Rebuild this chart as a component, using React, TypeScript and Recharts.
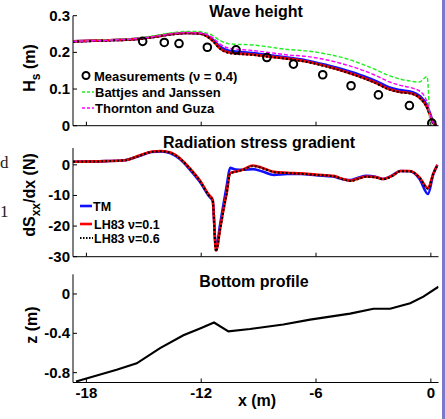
import React from "react"
import { ComposedChart, LineChart, Line, Scatter, XAxis, YAxis } from "recharts"

// wave height panel
const xWave = [-18.7, -17, -15.5, -14.5, -13.5, -12.8, -12.2, -11.8, -11.4, -11.0, -10.6, -10.2, -9.5, -8.5, -7.5, -6.5, -5.5, -4.5, -3.5, -2.8, -2.2, -1.6, -1.0, -0.6, -0.2, -0.05, 0.1, 0.3]
const tmWave = [0.23, 0.233, 0.236, 0.242, 0.25, 0.253, 0.252, 0.248, 0.235, 0.215, 0.205, 0.202, 0.199, 0.193, 0.186, 0.178, 0.166, 0.152, 0.135, 0.12, 0.105, 0.097, 0.092, 0.082, 0.055, 0.035, 0.012, 0]
const lh1Wave = [0.23, 0.233, 0.236, 0.242, 0.25, 0.253, 0.252, 0.247, 0.232, 0.21, 0.2, 0.197, 0.195, 0.189, 0.183, 0.175, 0.163, 0.148, 0.13, 0.115, 0.1, 0.092, 0.088, 0.077, 0.05, 0.03, 0.01, 0]
const lh6Wave = [0.229, 0.232, 0.235, 0.241, 0.249, 0.252, 0.251, 0.246, 0.231, 0.209, 0.199, 0.196, 0.194, 0.188, 0.182, 0.174, 0.162, 0.147, 0.129, 0.114, 0.099, 0.091, 0.087, 0.076, 0.049, 0.029, 0.009, 0]
const bjWave = [0.23, 0.234, 0.238, 0.245, 0.254, 0.257, 0.257, 0.254, 0.246, 0.232, 0.224, 0.222, 0.221, 0.215, 0.208, 0.204, 0.196, 0.184, 0.166, 0.151, 0.137, 0.127, 0.121, 0.119, 0.134, 0, null, null]
const tgWave = [0.23, 0.233, 0.237, 0.243, 0.251, 0.254, 0.253, 0.25, 0.24, 0.222, 0.212, 0.209, 0.206, 0.2, 0.193, 0.189, 0.18, 0.167, 0.15, 0.135, 0.12, 0.11, 0.103, 0.095, 0.065, 0.035, 0.01, 0]
const measX = [-15.06, -13.93, -13.16, -11.68, -10.18, -8.57, -7.18, -5.65, -4.17, -2.74, -1.12, 0.05]
const measH = [0.23, 0.227, 0.224, 0.214, 0.207, 0.186, 0.168, 0.139, 0.109, 0.084, 0.055, 0.007]

// radiation stress gradient panel
const xGrad = [-18.7, -17, -16, -15.2, -14.6, -14.1, -13.6, -13.1, -12.6, -12.1, -11.6, -11.4, -11.23, -11.0, -10.84, -10.67, -10.49, -10.2, -9.8, -9.3, -8.8, -8.2, -7.5, -6.8, -6.0, -5.1, -4.6, -4.2, -3.8, -3.35, -2.9, -2.5, -2.0, -1.6, -1.1, -0.6, -0.15, 0.13, 0.35]
const tmGrad = [1.0, 1.2, 1.5, 3.0, 4.2, 4.4, 3.8, 1.8, -1.5, -5.3, -10.2, -11.8, -27.0, -19.0, -13.0, -7.0, -1.0, -1.5, -1.6, -1.4, -2.2, -3.3, -3.0, -3.0, -3.4, -3.8, -4.7, -5.0, -4.2, -3.6, -3.9, -4.6, -3.4, -2.0, -2.1, -4.5, -9.5, -3.0, 0.0]
const lh1Grad = [1.0, 1.2, 1.5, 3.1, 4.3, 4.5, 4.0, 2.1, -1.1, -4.8, -9.8, -11.4, -28.0, -20.5, -14.7, -9.2, -2.7, -2.2, -1.5, -0.2, -1.0, -2.3, -2.6, -2.8, -3.2, -3.6, -4.6, -5.2, -4.5, -3.8, -4.0, -4.6, -3.5, -2.0, -2.0, -4.0, -7.6, -2.8, 0.0]
const lh6Grad = [1.0, 1.2, 1.5, 3.0, 4.2, 4.4, 3.9, 2.0, -1.2, -5.0, -10.0, -11.6, -28.3, -20.8, -15.0, -9.5, -2.8, -2.3, -1.6, -0.4, -1.1, -2.4, -2.7, -2.9, -3.3, -3.7, -4.7, -5.3, -4.6, -3.9, -4.1, -4.7, -3.6, -2.1, -2.1, -4.1, -7.8, -2.9, 0.0]

// bottom profile panel
const xBed = [-18.54, -16.42, -15.37, -14.15, -12.93, -12.06, -11.33, -10.58, -9.45, -7.71, -6.31, -4.22, -3.0, -2.13, -1.08, -0.39, 0.4]
const zBed = [-0.89, -0.77, -0.705, -0.55, -0.42, -0.35, -0.29, -0.38, -0.356, -0.31, -0.26, -0.2, -0.15, -0.15, -0.095, -0.027, 0.074]

const xTicks = [-18, -12, -6, 0]
const W = 445
const H = 419
const FONT = "'Liberation Sans', Arial, sans-serif"

const waveRows = xWave.map((x, i) => ({ x, tm: tmWave[i], lh1: lh1Wave[i], lh6: lh6Wave[i], bj: bjWave[i], tg: tgWave[i] }))
const measRows = measX.map((x, i) => ({ x, h: measH[i] }))
const gradRows = xGrad.map((x, i) => ({ x, tm: tmGrad[i], lh1: lh1Grad[i], lh6: lh6Grad[i] }))
const bedRows = xBed.map((x, i) => ({ x, z: zBed[i] }))

const bottomTick = (showLabel: boolean) => (props: any) => {
  const { x, y, payload } = props
  return (
    <g>
      <line x1={x} x2={x} y1={y} y2={y - 4} stroke="#000" />
      {showLabel && (
        <text x={x} y={y + 15} textAnchor="middle" fontFamily={FONT} fontWeight="bold" fontSize={15} fill="#000">
          {payload.value}
        </text>
      )}
    </g>
  )
}

const leftTick = (props: any) => {
  const { x, y, payload } = props
  return (
    <g>
      <line x1={x} x2={x + 4} y1={y} y2={y} stroke="#000" />
      <text x={x - 3} y={y + 5} textAnchor="end" fontFamily={FONT} fontWeight="bold" fontSize={15} fill="#000">
        {payload.value}
      </text>
    </g>
  )
}

// axes get 1px of room, so plot edges land on the margins below
const axisProps = { axisLine: { stroke: "#000" }, tickLine: false, tickSize: 0, tickMargin: 0 }
const abs: React.CSSProperties = { position: "absolute", left: 0, top: 0 }

const Circle = (props: any) => (
  <circle cx={props.cx} cy={props.cy} r={3.8} fill="none" stroke="#000" strokeWidth={2} />
)

export default function App() {
  return (
    <div style={{ position: "absolute", left: 0, top: 0, width: W, height: H, background: "#fff", overflow: "hidden" }}>
      <div style={abs}>
        <ComposedChart width={W} height={H} data={waveRows} margin={{ top: 15.7, right: 6.5, bottom: H - 126.7, left: 72 }}>
          <XAxis dataKey="x" type="number" domain={[-18.7, 0.4]} ticks={xTicks} allowDataOverflow height={1} tick={bottomTick(false)} {...axisProps} />
          <YAxis type="number" domain={[0, 0.3]} ticks={[0, 0.1, 0.2, 0.3]} allowDataOverflow width={1} tick={leftTick} {...axisProps} />
          <Line type="monotone" dataKey="tm" stroke="#1010ff" strokeWidth={2.6} dot={false} isAnimationActive={false} />
          <Line type="monotone" dataKey="lh1" stroke="#ff0000" strokeWidth={2.6} dot={false} isAnimationActive={false} />
          <Line type="monotone" dataKey="lh6" stroke="#000" strokeWidth={2} strokeDasharray="2 2" dot={false} isAnimationActive={false} />
          <Line type="monotone" dataKey="bj" stroke="#22ee22" strokeWidth={1.4} strokeDasharray="4 2" dot={false} isAnimationActive={false} />
          <Line type="monotone" dataKey="tg" stroke="#ff00ff" strokeWidth={1.4} strokeDasharray="4 2" dot={false} isAnimationActive={false} />
          <Scatter data={measRows} dataKey="h" shape={Circle} isAnimationActive={false} />
        </ComposedChart>
      </div>
      <div style={abs}>
        <LineChart width={W} height={H} data={gradRows} margin={{ top: 148, right: 6.5, bottom: H - 257.7, left: 72 }}>
          <XAxis dataKey="x" type="number" domain={[-18.7, 0.4]} ticks={xTicks} allowDataOverflow height={1} tick={bottomTick(false)} {...axisProps} />
          <YAxis type="number" domain={[-30, 5.5]} ticks={[-30, -20, -10, 0]} allowDataOverflow width={1} tick={leftTick} {...axisProps} />
          <Line type="monotone" dataKey="tm" stroke="#1010ff" strokeWidth={2.6} dot={false} isAnimationActive={false} />
          <Line type="monotone" dataKey="lh1" stroke="#ff0000" strokeWidth={2.6} dot={false} isAnimationActive={false} />
          <Line type="monotone" dataKey="lh6" stroke="#000" strokeWidth={2} strokeDasharray="2 2" dot={false} isAnimationActive={false} />
        </LineChart>
      </div>
      <div style={abs}>
        <LineChart width={W} height={H} data={bedRows} margin={{ top: 274.3, right: 6.5, bottom: H - 383.5, left: 72 }}>
          <XAxis dataKey="x" type="number" domain={[-18.7, 0.4]} ticks={xTicks} allowDataOverflow height={1} tick={bottomTick(true)} {...axisProps} />
          <YAxis type="number" domain={[-0.9, 0.2]} ticks={[-0.8, -0.4, 0]} allowDataOverflow width={1} tick={leftTick} {...axisProps} />
          <Line type="linear" dataKey="z" stroke="#000" strokeWidth={2.2} dot={false} isAnimationActive={false} />
        </LineChart>
      </div>
      <svg width={W} height={H} style={abs} fontFamily={FONT} fontWeight="bold">
        <text x={256} y={17} textAnchor="middle" fontSize={16}>Wave height</text>
        <text x={259} y={148} textAnchor="middle" fontSize={16}>Radiation stress gradient</text>
        <text x={254} y={287} textAnchor="middle" fontSize={16}>Bottom profile</text>
        <text x={257} y={406} textAnchor="middle" fontSize={16}>x (m)</text>

        <text transform="translate(35,68) rotate(-90)" textAnchor="middle" fontSize={16}>
          H<tspan dy={5} fontSize={12}>s</tspan><tspan dy={-5}> (m)</tspan>
        </text>
        <text transform="translate(35,195) rotate(-90)" textAnchor="middle" fontSize={16}>
          dS<tspan dy={5} fontSize={12}>xx</tspan><tspan dy={-5}>/dx (N)</tspan>
        </text>
        <text transform="translate(37,325) rotate(-90)" textAnchor="middle" fontSize={16}>z (m)</text>

        <circle cx={86} cy={75.5} r={3.5} fill="none" stroke="#000" strokeWidth={2} />
        <text x={94} y={80.5} fontSize={13}>Measurements (ν = 0.4)</text>
        <line x1={82} x2={94} y1={92} y2={92} stroke="#22ee22" strokeWidth={1.4} strokeDasharray="3 2" />
        <text x={95} y={97} fontSize={13}>Battjes and Janssen</text>
        <line x1={82} x2={94} y1={108} y2={108} stroke="#ff00ff" strokeWidth={1.4} strokeDasharray="3 2" />
        <text x={95} y={113} fontSize={13}>Thornton and Guza</text>

        <line x1={80} x2={92} y1={206} y2={206} stroke="#1010ff" strokeWidth={2.6} />
        <text x={93} y={210.5} fontSize={12.5}>TM</text>
        <line x1={80} x2={92} y1={224} y2={224} stroke="#ff0000" strokeWidth={2.6} />
        <text x={94} y={228.5} fontSize={12.5}>LH83 ν=0.1</text>
        <line x1={80} x2={93} y1={238} y2={238} stroke="#000" strokeWidth={2} strokeDasharray="1.5 1.5" />
        <text x={94} y={242.5} fontSize={12.5}>LH83 ν=0.6</text>

        <text x={0} y={168} fontFamily="'Liberation Serif', serif" fontWeight="normal" fontSize={17} fill="#222">d</text>
        <text x={0} y={217} fontFamily="'Liberation Serif', serif" fontWeight="normal" fontSize={17} fill="#222">1</text>
        <rect x={442} y={0} width={3} height={H} fill="#7a7ac8" />
      </svg>
    </div>
  )
}
